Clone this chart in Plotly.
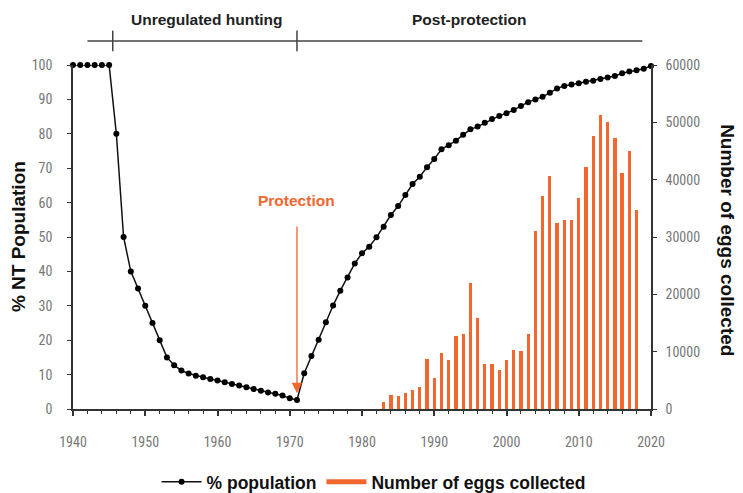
import plotly.graph_objects as go

# ---- data ----
pop_years = list(range(1940, 2021))
pop_pct = [100, 100, 100, 100, 100, 100, 80, 50, 40, 35,
           30, 25, 20, 15, 12.7, 11.2, 10.3, 9.7, 9.2, 8.7,
           8.3, 7.8, 7.3, 6.8, 6.3, 5.8, 5.3, 4.8, 4.4, 3.9,
           3.1, 2.6, 10.4, 15.4, 20.1, 25.2, 30.1, 34.4, 38.2, 42.3,
           45.3, 47.2, 49.9, 53.0, 56.4, 59.0, 62.2, 65.4, 67.5, 70.3,
           72.7, 75.5, 76.7, 78.0, 79.7, 81.3, 82.1, 83.2, 84.3, 85.2,
           86.0, 86.9, 88.1, 89.2, 90.0, 90.8, 91.9, 93.2, 93.9, 94.3,
           94.7, 95.1, 95.4, 95.9, 96.4, 96.8, 97.6, 98.1, 98.5, 98.9,
           99.7]

egg_years = list(range(1983, 2019))
eggs = [1200, 2500, 2200, 2750, 3300, 3800, 8800, 5450, 9800, 8500,
        12800, 13050, 21900, 15800, 7900, 7900, 6850, 8500, 10350, 10100,
        13050, 31100, 37100, 40600, 32450, 33050, 33050, 36800, 42200, 47650,
        51300, 50100, 47200, 41200, 45000, 34700]

x_ticks = [1940, 1950, 1960, 1970, 1980, 1990, 2000, 2010, 2020]
pct_ticks = list(range(0, 101, 10))
egg_ticks = list(range(0, 60001, 10000))

period_labels = ["Unregulated hunting", "Post-protection"]
period_bounds = [1942, 1945.5, 1971, 2018.8]
protection_year = 1971

ORANGE = "#F2672E"
AXIS = "#333333"
TICKFONT = dict(family="Liberation Sans Narrow, Roboto Condensed, Arial Narrow, Roboto, sans-serif",
                size=14, color="#777777")
BOLD = "Liberation Sans, Arial, sans-serif"

fig = go.Figure()

fig.add_trace(go.Bar(
    x=egg_years, y=eggs, name="Number of eggs collected",
    marker=dict(color=ORANGE, line=dict(width=0)), width=0.45,
    yaxis="y", showlegend=False,
))
fig.add_trace(go.Scatter(
    x=pop_years, y=pop_pct, name="% population", mode="lines+markers",
    line=dict(color="#111111", width=1.5), marker=dict(color="#000000", size=6),
    yaxis="y2", legendrank=1, cliponaxis=False,
))
# legend swatch for the bars (drawn as a thick line like the original legend)
fig.add_trace(go.Scatter(
    x=[None], y=[None], name="Number of eggs collected", mode="lines",
    line=dict(color=ORANGE, width=5), yaxis="y", legendrank=2,
))

# the page body adds an 8px offset; margins compensate for it
fig.update_layout(
    width=743, height=493,
    margin=dict(l=65, r=100, t=57, b=92, autoexpand=False),
    plot_bgcolor="white", paper_bgcolor="white",
    bargap=0,
    showlegend=True,
    legend=dict(orientation="h", x=0.52, xanchor="center", y=-0.212, yanchor="middle",
                font=dict(family=BOLD, size=17.5, color="#111111", weight="bold"),
                itemwidth=40, traceorder="normal"),
    xaxis=dict(range=[1940, 2020], tickvals=x_ticks, showgrid=False, zeroline=False,
               showline=True, linecolor=AXIS, linewidth=1.5,
               ticks="outside", ticklen=5, tickcolor=AXIS, tickwidth=1.5,
               tickfont=TICKFONT, ticklabelstandoff=14,
               minor=dict(dtick=2, ticks="outside", ticklen=3, tickcolor=AXIS, tickwidth=1)),
    yaxis=dict(range=[0, 60000], tickvals=egg_ticks, tickformat="d", side="right", showgrid=False,
               zeroline=False, showline=True, linecolor=AXIS, linewidth=1.5,
               ticks="outside", ticklen=4, tickcolor=AXIS, tickfont=TICKFONT,
               ticklabelstandoff=6),
    yaxis2=dict(range=[0, 100], tickvals=pct_ticks, side="left", overlaying="y",
                showgrid=False, zeroline=False, showline=True, linecolor=AXIS, linewidth=1.5,
                ticks="outside", ticklen=4, tickcolor=AXIS, tickfont=TICKFONT,
                ticklabelstandoff=12),
)

# period bar at the top
fig.add_shape(type="line", xref="x", yref="paper", x0=period_bounds[0], x1=period_bounds[3],
              y0=1.07, y1=1.07, line=dict(color="#444444", width=1.5))
for b in period_bounds[1:3]:
    fig.add_shape(type="line", xref="x", yref="paper", x0=b, x1=b, y0=1.04, y1=1.10,
                  line=dict(color="#444444", width=1.5))
fig.add_annotation(x=(period_bounds[1] + period_bounds[2]) / 2 + 0.3, y=1.131, xref="x", yref="paper",
                   xanchor="center", yanchor="middle",
                   text="<b>" + period_labels[0] + "</b>", showarrow=False,
                   font=dict(family=BOLD, size=15.5, color="#222222"))
fig.add_annotation(x=(period_bounds[2] + period_bounds[3]) / 2, y=1.131, xref="x", yref="paper",
                   xanchor="center", yanchor="middle",
                   text="<b>" + period_labels[1] + "</b>", showarrow=False,
                   font=dict(family=BOLD, size=15.5, color="#222222"))

# protection arrow
fig.add_annotation(x=protection_year, y=4.6, xref="x", yref="y2",
                   ax=protection_year, ay=53.5, axref="x", ayref="y2",
                   showarrow=True, arrowhead=2, arrowsize=1.6, arrowwidth=1.3,
                   arrowcolor=ORANGE, text="")
fig.add_annotation(x=protection_year, y=60.5, xref="x", yref="y2",
                   xanchor="center", yanchor="middle",
                   text="<b>Protection</b>", showarrow=False,
                   font=dict(family=BOLD, size=15.5, color=ORANGE))

# axis titles
fig.add_annotation(x=-0.095, y=0.5, xref="paper", yref="paper", textangle=-90,
                   xanchor="center", yanchor="middle",
                   text="<b>% NT Population</b>", showarrow=False,
                   font=dict(family=BOLD, size=19, color="#111111"))
fig.add_annotation(x=1.132, y=0.49, xref="paper", yref="paper", textangle=90,
                   xanchor="center", yanchor="middle",
                   text="<b>Number of eggs collected</b>", showarrow=False,
                   font=dict(family=BOLD, size=19, color="#111111"))

fig.write_html("out.html")
